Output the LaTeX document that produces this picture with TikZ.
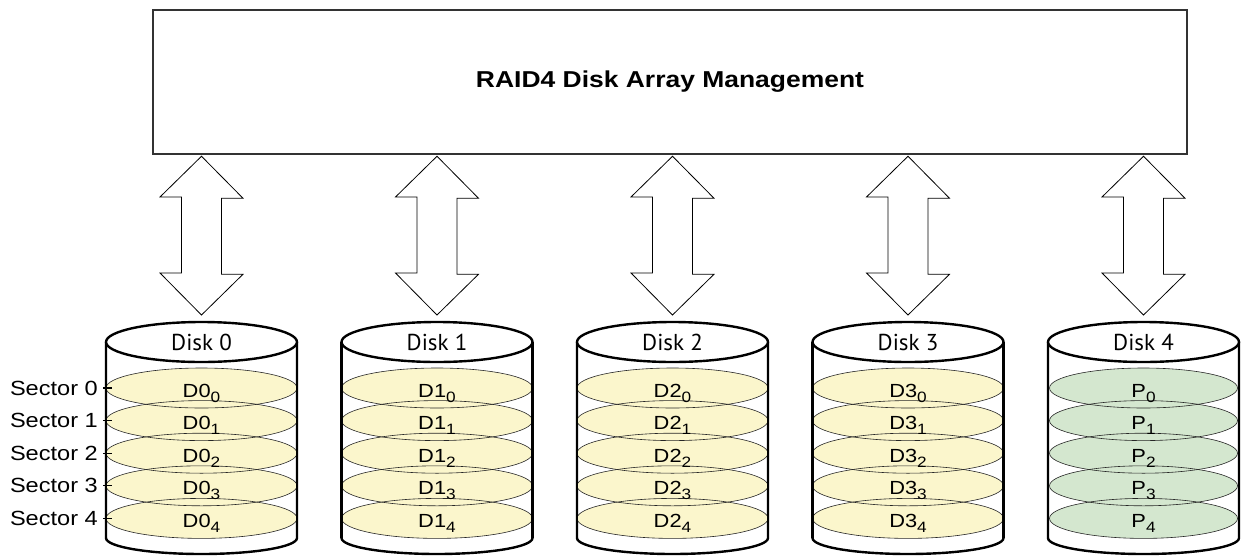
\documentclass[tikz,border=0pt]{standalone}
\usepackage{fontspec}
\setmainfont[FakeStretch=1.15]{Liberation Sans}
\newfontfamily\diskfam{PT Sans}
\definecolor{secyellow}{HTML}{FBF6CC}
\definecolor{secgreen}{HTML}{D4E7CF}
\definecolor{boxgray}{HTML}{333333}
\newcommand\titlefnt{\fontsize{23}{23}\selectfont\bfseries}
\newcommand\sectfnt{\fontsize{20.5}{20.5}\selectfont}
\newcommand\dfnt{\fontsize{19}{19}\selectfont}
\newcommand\diskfnt{\diskfam\fontsize{23}{23}\selectfont}
\newcommand\subidx[1]{\raisebox{-5pt}{\fontsize{15}{15}\selectfont #1}}
\begin{document}
\begin{tikzpicture}[x=1pt,y=-1pt,
  mgmtbox/.style={draw=boxgray, line width=2.5pt, minimum width=1034pt, minimum height=144pt, inner sep=0pt, font=\titlefnt},
  cyl/.style={draw=black, line width=2.4pt, fill=white},
  cylside/.style={draw=black, line width=2.4pt},
  sectline/.style={draw=black!85, line width=0.6pt},
  bigarrow/.style={draw=black, line width=0.8pt, fill=white, line join=miter},
  seclabel/.style={anchor=east, inner sep=0pt, font=\sectfnt},
  dlabel/.style={anchor=base, inner sep=0pt, font=\dfnt},
  disklabel/.style={anchor=base, inner sep=0pt, font=\diskfnt},
  tick/.style={draw=black, line width=1.3pt}]
\useasboundingbox (0,0) rectangle (1241,557);
\fill[white] (0,0) rectangle (1241,557);

\node[mgmtbox] (mgmt) at (670,82) {RAID4 Disk Array Management};

\foreach \i in {0,...,4}{
  \pgfmathsetmacro{\cx}{201.5+235.5*\i}
  \coordinate (top\i) at (\cx,342);
  \coordinate (tip\i) at (mgmt.south -| top\i);
  % double arrow
  \draw[bigarrow] ([yshift=-1pt]tip\i) -- ++(41.5,42) -- ++(-21.5,0) -- ++(0,76) -- ++(21.5,0)
     -- (\cx,315) -- ++(-41.5,-42) -- ++(21.5,0) -- ++(0,-76) -- ++(-21.5,0) -- cycle;
  % cylinder body
  \draw[cyl] (\cx-95.5,342) -- (\cx-95.5,538)
     arc[start angle=180,end angle=360,x radius=95.5pt,y radius=16pt] -- (\cx+95.5,342);
  \draw[cyl] (top\i) ellipse[x radius=95.5pt, y radius=20pt];
  \node[disklabel] (dl\i) at (\cx,350) {Disk \i};
  % sector fills
  \ifnum\i=4
    \foreach \j in {0,...,4}{\fill[secgreen] (\cx,388+32.6*\j) ellipse[x radius=94pt,y radius=20pt];}
  \else
    \foreach \j in {0,...,4}{\fill[secyellow] (\cx,388+32.6*\j) ellipse[x radius=95.5pt,y radius=20pt];}
  \fi
  % sector outlines
  \ifnum\i=4
    \foreach \j in {0,...,4}{\draw[sectline] (\cx,388+32.6*\j) ellipse[x radius=94pt,y radius=20pt];}
  \else
    \foreach \j in {0,...,4}{\draw[sectline] (\cx,388+32.6*\j) ellipse[x radius=95.5pt,y radius=20pt];}
  \fi
  % redraw sides
  \draw[cylside] (\cx-95.5,342) -- (\cx-95.5,538);
  \draw[cylside] (\cx+95.5,342) -- (\cx+95.5,538);
  % labels
  \ifnum\i=4
    \foreach \j in {0,...,4}{\node[dlabel] (p\j) at (\cx,397+32.6*\j) {P\subidx{\j}};}
  \else
    \foreach \j in {0,...,4}{\node[dlabel] (d\i\j) at (\cx,397+32.6*\j) {D\i\subidx{\j}};}
  \fi
}

\foreach \j in {0,...,4}{
  \node[seclabel] (sec\j) at (98,388+32.6*\j) {Sector \j};
  \draw[tick] ([xshift=5pt]sec\j.east) -- ([xshift=14pt]sec\j.east);
}
\end{tikzpicture}
\end{document}
